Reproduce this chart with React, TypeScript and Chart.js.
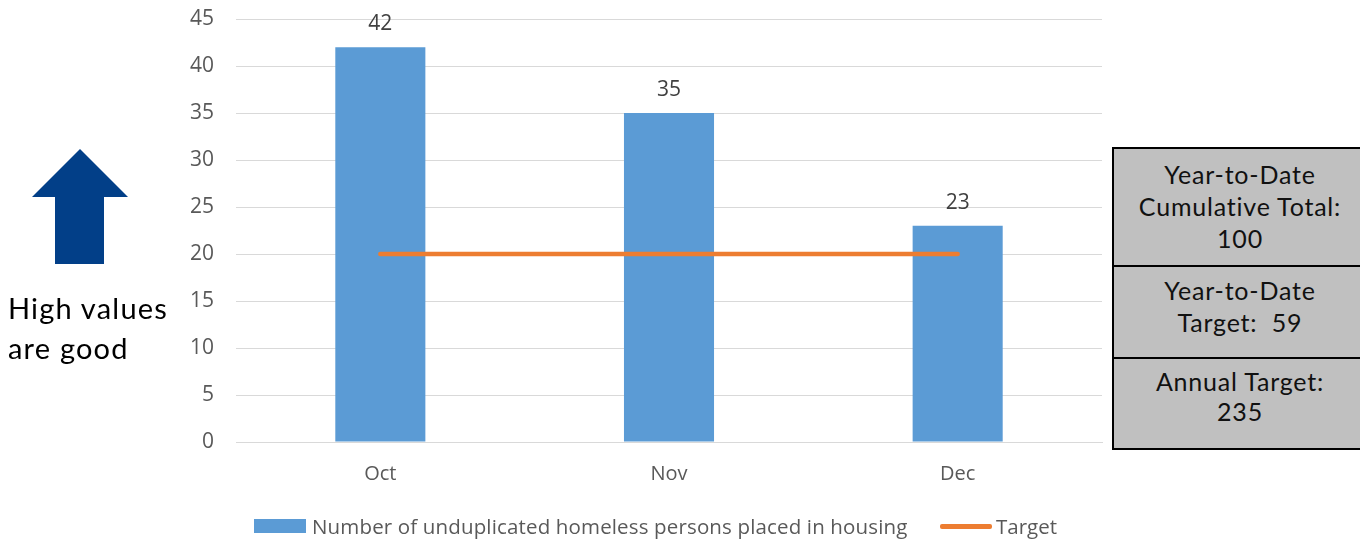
import React, { useEffect, useRef } from "react";
import { Chart, registerables } from "chart.js";

Chart.register(...registerables);

const categories = ["Oct", "Nov", "Dec"];
const placedValues = [42, 35, 23];
const targetValues = [20, 20, 20];
const barLabel = "Number of unduplicated homeless persons placed in housing";
const lineLabel = "Target";
const tableRows = [
  ["Year-to-Date", "Cumulative Total:", "100"],
  ["Year-to-Date", "Target:  59"],
  ["Annual Target:", "235"],
];

const BLUE = "#5B9BD5";
const ORANGE = "#ED7D31";
const CHART_FONT = "'Open Sans', 'Noto Sans', sans-serif";
const SIDE_FONT = "Lato, 'Noto Sans', sans-serif";

const dataLabelPlugin = {
  id: "dataLabels",
  afterDatasetsDraw(chart: any) {
    const ctx = chart.ctx;
    const meta = chart.getDatasetMeta(0);
    ctx.save();
    ctx.font = `21px ${CHART_FONT}`;
    ctx.fillStyle = "#404040";
    ctx.textAlign = "center";
    ctx.textBaseline = "middle";
    meta.data.forEach((el: any, i: number) => {
      ctx.fillText(String(placedValues[i]), el.x, el.y - 23);
    });
    ctx.restore();
  },
};

export default function App() {
  const ref = useRef<HTMLCanvasElement>(null);
  useEffect(() => {
    if (!ref.current) return;
    const chart = new Chart(ref.current, {
      type: "bar",
      data: {
        labels: categories,
        datasets: [
          {
            type: "bar",
            label: barLabel,
            data: placedValues,
            backgroundColor: BLUE,
            categoryPercentage: 1,
            barPercentage: 0.312,
            order: 2,
          },
          {
            type: "line",
            label: lineLabel,
            data: targetValues,
            borderColor: ORANGE,
            borderWidth: 4.5,
            borderCapStyle: "round",
            pointRadius: 0,
            fill: false,
            order: 1,
          } as any,
        ],
      },
      options: {
        responsive: false,
        animation: false,
        layout: { padding: { left: 176, top: 19, right: 258, bottom: 48 } },
        plugins: { legend: { display: false }, tooltip: { enabled: false } },
        scales: {
          x: {
            grid: { display: false, drawTicks: false },
            border: { display: true, color: "#d9d9d9", width: 1 },
            ticks: { color: "#595959", font: { family: CHART_FONT, size: 20 }, padding: 20 },
            afterFit: (s: any) => { s.height = 50; s.paddingLeft = 0; s.paddingRight = 0; },
          },
          y: {
            min: 0,
            max: 45,
            ticks: { stepSize: 5, color: "#595959", font: { family: CHART_FONT, size: 21 }, padding: 22 },
            grid: { color: "#d9d9d9", lineWidth: 1, drawTicks: false },
            border: { display: false },
            afterFit: (s: any) => { s.width = 60; s.paddingTop = 0; s.paddingBottom = 0; },
          },
        },
      },
      plugins: [dataLabelPlugin],
    });
    return () => chart.destroy();
  }, []);

  const rowPad = [9, 7, 7];
  const rowLh = [32, 32, 30];
  const rowH = [116, 92, 91];

  return (
    <div style={{ position: "absolute", left: 0, top: 0, width: 1360, height: 540, overflow: "hidden", background: "#fff", fontFamily: SIDE_FONT }}>
      <canvas ref={ref} width={1360} height={540} style={{ position: "absolute", left: 0, top: 0 }} />
      <svg width={140} height={130} style={{ position: "absolute", left: 0, top: 140 }}>
        <polygon points="32,57 80,9 128,57 104,57 104,124 55,124 55,57" fill="#023F88" />
      </svg>
      <div style={{ position: "absolute", left: 8, top: 288, fontSize: 29, letterSpacing: "1.2px", lineHeight: "40px", color: "#000", whiteSpace: "nowrap" }}>
        High values<br />are good
      </div>
      <div style={{ position: "absolute", left: 1112, top: 147, width: 256, border: "2px solid #000", boxSizing: "border-box", background: "#C0C0C0", color: "#111" }}>
        {tableRows.map((row, i) => (
          <div key={i} style={{ height: rowH[i], borderTop: i ? "2px solid #000" : "none", boxSizing: "border-box", display: "flex", flexDirection: "column", justifyContent: "flex-start", alignItems: "center", paddingTop: rowPad[i], fontSize: 25, letterSpacing: "0.8px", lineHeight: `${rowLh[i]}px`, textAlign: "center" }}>
            {row.map((t, j) => <div key={j} style={{ whiteSpace: "pre" }}>{t}</div>)}
          </div>
        ))}
      </div>
      <div style={{ position: "absolute", left: 254, top: 519, width: 52, height: 14, background: BLUE }} />
      <div style={{ position: "absolute", left: 312, top: 513, fontFamily: CHART_FONT, fontSize: 20.5, letterSpacing: "0.15px", lineHeight: "26px", color: "#595959", whiteSpace: "nowrap" }}>{barLabel}</div>
      <div style={{ position: "absolute", left: 940, top: 524, width: 52, height: 4.5, borderRadius: 2, background: ORANGE }} />
      <div style={{ position: "absolute", left: 996, top: 513, fontFamily: CHART_FONT, fontSize: 20.5, lineHeight: "26px", color: "#595959", whiteSpace: "nowrap" }}>{lineLabel}</div>
    </div>
  );
}
